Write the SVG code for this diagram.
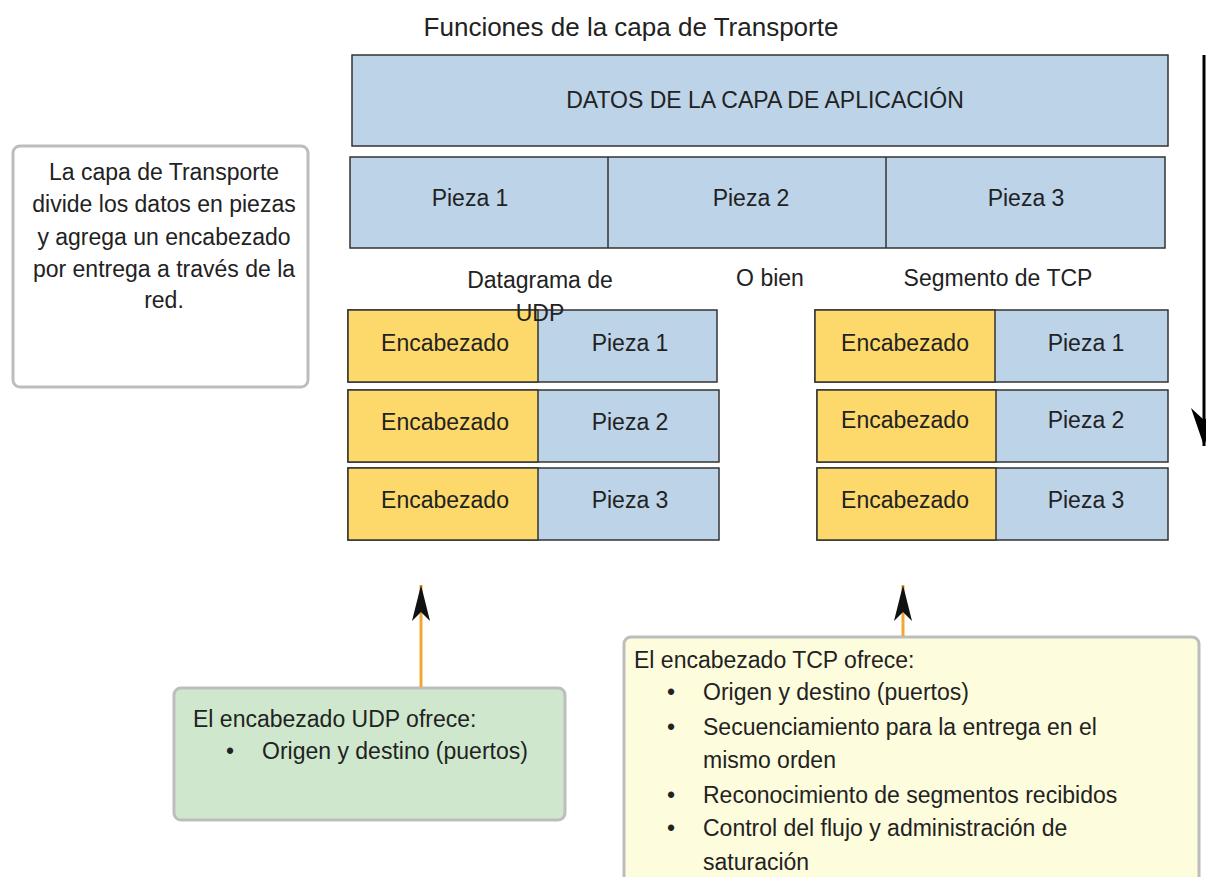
<svg xmlns="http://www.w3.org/2000/svg" width="1206" height="877" viewBox="0 0 1206 877">
<style>
text{font-family:"Liberation Sans",Arial,sans-serif;fill:#222;font-size:23px}
.c{text-anchor:middle}
.blue{fill:#bcd3e8;stroke:#333;stroke-width:1.5}
.yel{fill:#fdd96c;stroke:#333;stroke-width:1.5}
.note{stroke:#bdbdbd;stroke-width:3}
.ol{stroke:#f0a830;stroke-width:3;fill:none}
</style>
<defs>
<marker id="ah" viewBox="0 0 36 18" refX="36" refY="9" markerWidth="36" markerHeight="18" markerUnits="userSpaceOnUse" orient="auto">
<path d="M0 0 L36 9 L0 18 L9 9 Z" fill="#111"/>
</marker>
<marker id="ahb" viewBox="0 0 38 26" refX="38" refY="13" markerWidth="38" markerHeight="26" markerUnits="userSpaceOnUse" orient="auto">
<path d="M0 0 L38 13 L0 26 L12 13 Z" fill="#000"/>
</marker>
</defs>
<rect width="1206" height="877" fill="#fff"/>
<text id="title" class="c" x="631" y="36" style="font-size:26px">Funciones de la capa de Transporte</text>

<g id="app-data">
<rect class="blue" x="352" y="55" width="816" height="91"/>
<text class="c" x="765" y="108">DATOS DE LA CAPA DE APLICACIÓN</text>
</g>

<g id="pieces">
<rect class="blue" x="350" y="157" width="815" height="91"/>
<line x1="608" y1="157" x2="608" y2="248" stroke="#333" stroke-width="1.5"/>
<line x1="886" y1="157" x2="886" y2="248" stroke="#333" stroke-width="1.5"/>
<text class="c" x="470" y="206">Pieza 1</text>
<text class="c" x="751" y="206">Pieza 2</text>
<text class="c" x="1026" y="206">Pieza 3</text>
</g>

<g id="left-note">
<rect class="note" x="13" y="146" width="295" height="241" rx="7" fill="#fff"/>
<text class="c" x="164" y="180">La capa de Transporte</text>
<text class="c" x="164" y="212">divide los datos en piezas</text>
<text class="c" x="164" y="245">y agrega un encabezado</text>
<text class="c" x="164" y="277">por entrega a través de la</text>
<text class="c" x="164" y="308">red.</text>
</g>

<g id="labels">
<text class="c" x="540" y="288">Datagrama de</text>
<text class="c" x="770" y="286">O bien</text>
<text class="c" x="998" y="286">Segmento de TCP</text>
</g>

<g id="udp">
<rect class="blue" x="348" y="310" width="369" height="72"/>
<rect class="yel" x="348" y="310" width="190" height="72"/>
<rect class="blue" x="348" y="390" width="371" height="72"/>
<rect class="yel" x="348" y="390" width="190" height="72"/>
<rect class="blue" x="348" y="468" width="371" height="72"/>
<rect class="yel" x="348" y="468" width="190" height="72"/>
<text class="c" x="445" y="351">Encabezado</text>
<text class="c" x="630" y="351">Pieza 1</text>
<text class="c" x="445" y="430">Encabezado</text>
<text class="c" x="630" y="430">Pieza 2</text>
<text class="c" x="445" y="508">Encabezado</text>
<text class="c" x="630" y="508">Pieza 3</text>
<text class="c" x="540" y="321">UDP</text>
</g>

<g id="tcp">
<rect class="blue" x="815" y="310" width="353" height="72"/>
<rect class="yel" x="815" y="310" width="180" height="72"/>
<rect class="blue" x="817" y="390" width="351" height="72"/>
<rect class="yel" x="817" y="390" width="179" height="72"/>
<rect class="blue" x="817" y="468" width="351" height="72"/>
<rect class="yel" x="817" y="468" width="179" height="72"/>
<text class="c" x="905" y="351">Encabezado</text>
<text class="c" x="1086" y="351">Pieza 1</text>
<text class="c" x="905" y="428">Encabezado</text>
<text class="c" x="1086" y="428">Pieza 2</text>
<text class="c" x="905" y="508">Encabezado</text>
<text class="c" x="1086" y="508">Pieza 3</text>
</g>

<g id="udp-note">
<rect class="note" x="174" y="688" width="391" height="132" rx="7" fill="#cfe8cd"/>
<text x="193" y="727">El encabezado UDP ofrece:</text>
<text x="226" y="759">•</text>
<text x="262" y="759">Origen y destino (puertos)</text>
</g>

<g id="tcp-note">
<rect class="note" x="624" y="637" width="575" height="260" rx="7" fill="#fdfcdc"/>
<text x="634" y="668">El encabezado TCP ofrece:</text>
<text x="667" y="700">•</text>
<text x="703" y="700">Origen y destino (puertos)</text>
<text x="667" y="735">•</text>
<text x="703" y="735">Secuenciamiento para la entrega en el</text>
<text x="703" y="768">mismo orden</text>
<text x="667" y="803">•</text>
<text x="703" y="803">Reconocimiento de segmentos recibidos</text>
<text x="667" y="836">•</text>
<text x="703" y="836">Control del flujo y administración de</text>
<text x="703" y="870">saturación</text>
</g>

<g id="connectors">
<line class="ol" x1="421" y1="687" x2="421" y2="585" marker-end="url(#ah)"/>
<line class="ol" x1="903" y1="636" x2="903" y2="585" marker-end="url(#ah)"/>
<line x1="1204" y1="55" x2="1204" y2="446" stroke="#000" stroke-width="3" marker-end="url(#ahb)"/>
</g>
</svg>
